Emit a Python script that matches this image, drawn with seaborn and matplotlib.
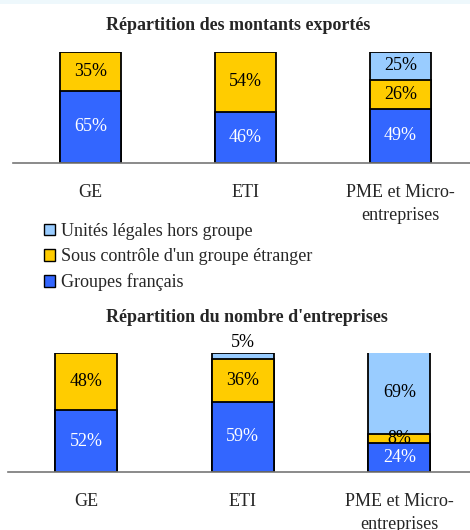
import numpy as np
import pandas as pd
import matplotlib
matplotlib.use("Agg")
import matplotlib.pyplot as plt
from matplotlib.patches import Patch, Rectangle
import seaborn as sns

categories = ["GE", "ETI", "PME et Micro-\nentreprises"]
series = ["Groupes français", "Sous contrôle d'un groupe étranger", "Unités légales hors groupe"]
colors = ["#3366FF", "#FFCC00", "#99CCFF"]
text_colors = ["white", "black", "black"]

# Répartition des montants exportés (%)
montants_fr = [65, 46, 49]
montants_etr = [35, 54, 26]
montants_hors = [0, 0, 25]

# Répartition du nombre d'entreprises (%)
nombre_fr = [52, 59, 24]
nombre_etr = [48, 36, 8]
nombre_hors = [0, 5, 69]

FS = 13

sns.set_style("white")
plt.rcParams["font.family"] = ["Liberation Serif", "DejaVu Serif"]

W, H = 470, 530
fig = plt.figure(figsize=(W / 100, H / 100), dpi=100)
fig.patches.append(Rectangle((0, 1 - 4 / H), 1, 4 / H, transform=fig.transFigure,
                             facecolor="#EEF8FC", edgecolor="none"))


def px_axes(left, right, base, top):
    return fig.add_axes([left / W, 1 - base / H, (right - left) / W, (base - top) / H])


def stacked(ax, fr, etr, hors, width, title, title_y, title_x, outside=()):
    df = pd.DataFrame({"cat": categories, "fr": fr, "etr": etr, "hors": hors})
    layers = [df["fr"], df["fr"] + df["etr"], df["fr"] + df["etr"] + df["hors"]]
    # draw from the tallest cumulative layer down so each segment shows
    for i in [2, 1, 0]:
        vals = layers[i].where(df[["fr", "etr", "hors"][i]] > 0, 0)
        sns.barplot(x=df["cat"], y=vals, color=colors[i], width=width,
                    edgecolor="black", linewidth=1.3, ax=ax, saturation=1)
    seg = [df["fr"], df["etr"], df["hors"]]
    for i in range(3):
        for j in range(3):
            v = seg[i][j]
            if v <= 0:
                continue
            bottom = layers[i][j] - v
            if (i, j) in outside:
                y = layers[i][j] + 1.5
                va = "bottom"
            else:
                y = bottom + v / 2
                va = "center"
            ax.text(j, y, f"{v}%", ha="center", va=va, fontsize=FS,
                    color=text_colors[i], clip_on=False)
    ax.set_xlim(-0.5, 2.5)
    ax.set_ylim(0, 100)
    ax.set_xlabel("")
    ax.set_ylabel("")
    ax.set_yticks([])
    for s in ["left", "right", "top"]:
        ax.spines[s].set_visible(False)
    ax.spines["bottom"].set_color("#777777")
    ax.spines["bottom"].set_linewidth(1.2)
    ax.set_xticks(range(3))
    ax.set_xticklabels(categories, fontsize=FS, linespacing=1.45)
    ax.tick_params(axis="x", which="major", length=0, pad=15)
    ax.set_xticks([-0.5, 0.5, 1.5, 2.5], minor=True)
    ax.tick_params(axis="x", which="minor", length=6, width=1.2, color="#777777",
                   direction="out")
    fig.text(title_x / W, 1 - title_y / H, title, ha="center", va="center",
             fontsize=FS, fontweight="bold")


ax1 = px_axes(13, 478, 163, 52)
stacked(ax1, montants_fr, montants_etr, montants_hors, 0.394,
        "Répartition des montants exportés", 26, 238)

ax2 = px_axes(8, 477.5, 472, 353)
stacked(ax2, nombre_fr, nombre_etr, nombre_hors, 0.396,
        "Répartition du nombre d'entreprises", 318, 247, outside=[(2, 1)])

handles = [Patch(facecolor=colors[i], edgecolor="black", linewidth=1.0, label=series[i])
           for i in [2, 1, 0]]
fig.legend(handles=handles, loc="upper left", bbox_to_anchor=(44 / W, 1 - 223 / H),
           frameon=False, fontsize=FS, handlelength=0.6, handleheight=0.6,
           handletextpad=0.35, labelspacing=0.46, borderpad=0, borderaxespad=0)

fig.savefig("out.png", dpi=100)
